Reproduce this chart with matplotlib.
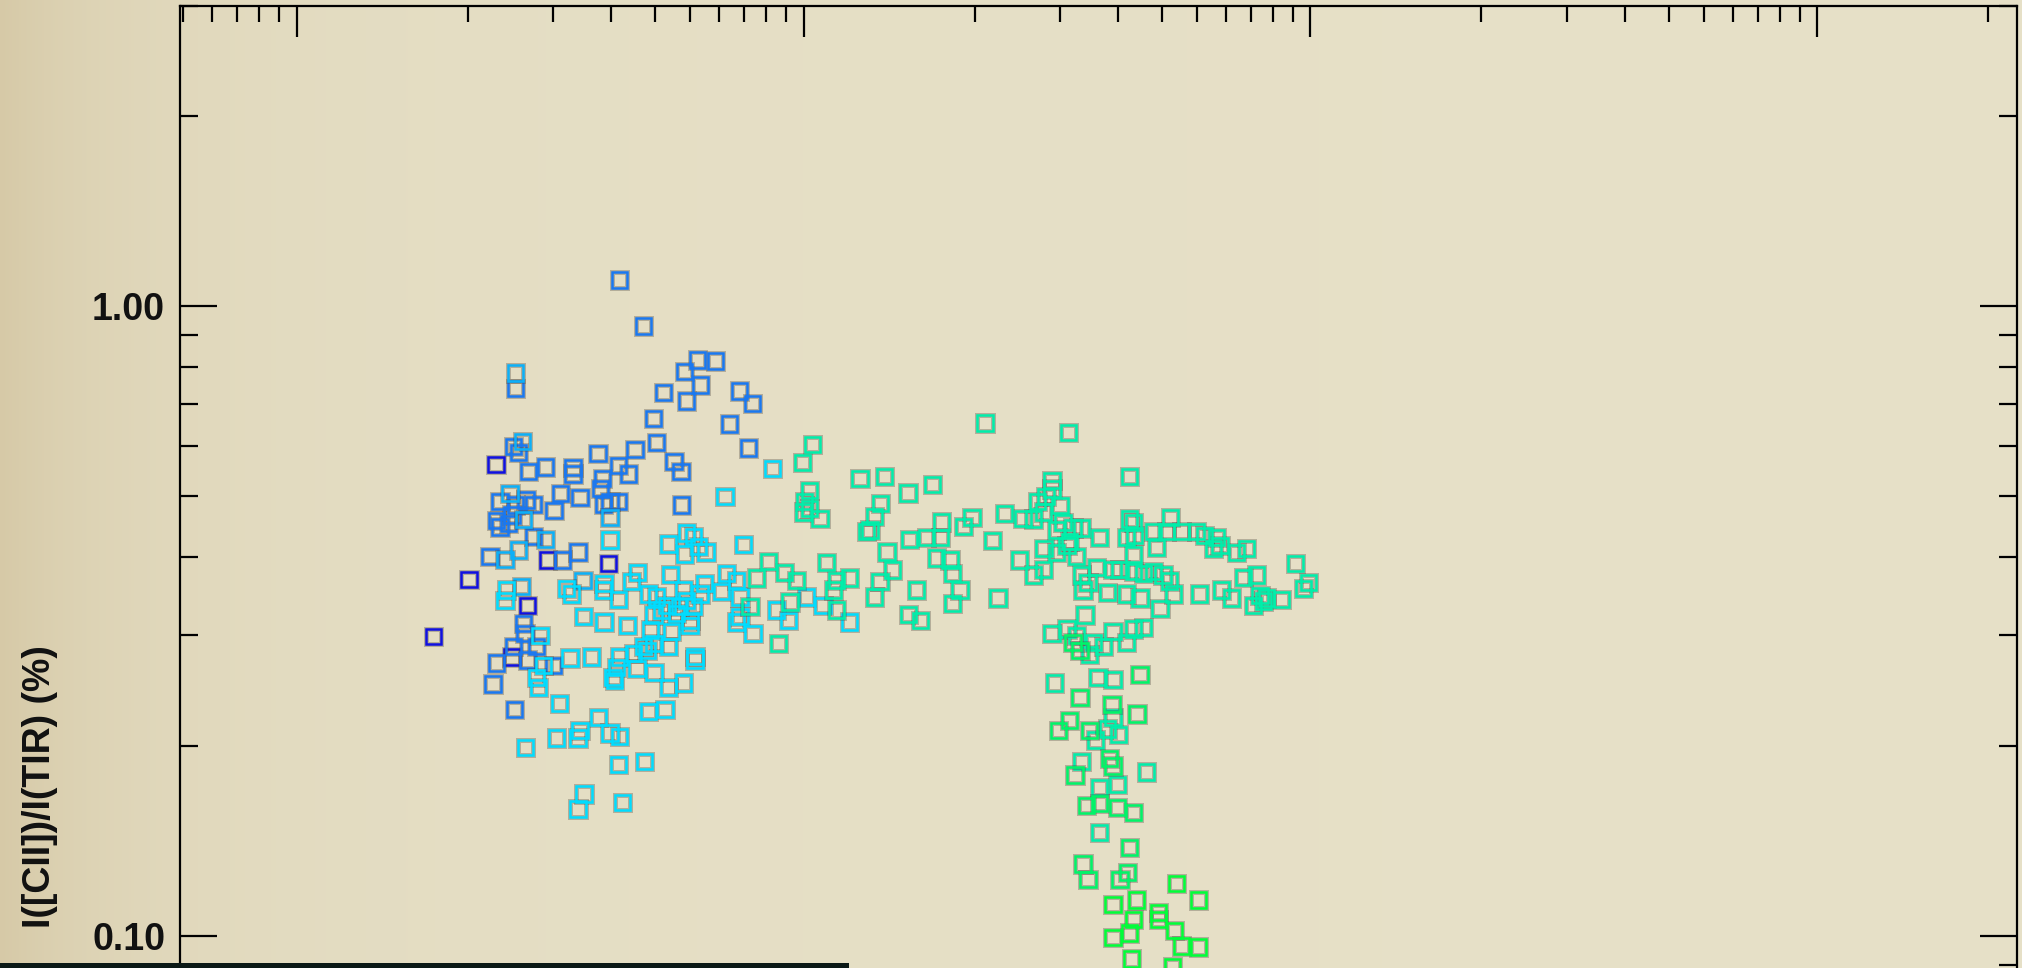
import numpy as np
import matplotlib
matplotlib.use("Agg")
import matplotlib.pyplot as plt
from matplotlib import patheffects as pe
from matplotlib.ticker import FixedLocator, NullFormatter
from matplotlib.patches import Rectangle

# ---------------------------------------------------------------------------
# Data: [CII]/TIR ratio (%) against the x quantity, grouped by colour class
# ---------------------------------------------------------------------------
x_deep = [2.472, 3.13, 4.12, 2.187, 2.85, 1.86, 2.66]
y_deep = [0.560, 0.395, 0.390, 0.368, 0.335, 0.299, 0.277]

x_blue = [4.34, 4.83, 5.82, 6.18, 6.71, 2.70, 5.29, 5.88, 6.27, 7.47, 7.94, 5.05,
          7.14, 5.13, 4.65, 3.93, 5.55, 5.73, 7.78, 2.675, 2.736, 3.10, 2.868,
          3.51, 3.51, 4.01, 3.97, 4.32, 4.51, 3.32, 3.62, 2.518, 2.833, 2.93,
          2.70, 3.22, 4.15, 4.31, 4.03, 5.75, 2.48, 2.614, 2.518, 2.66, 2.93,
          2.406, 3.35, 3.59, 2.80, 2.82, 2.97, 2.675, 2.48, 2.85, 3.21, 2.44, 2.69]
y_blue = [1.100, 0.930, 0.788, 0.821, 0.818, 0.740, 0.729, 0.707, 0.749, 0.733,
          0.701, 0.663, 0.650, 0.607, 0.592, 0.584, 0.567, 0.546, 0.595, 0.598,
          0.586, 0.555, 0.546, 0.554, 0.541, 0.532, 0.513, 0.558, 0.541, 0.504,
          0.497, 0.489, 0.492, 0.484, 0.483, 0.474, 0.489, 0.490, 0.484, 0.483,
          0.457, 0.451, 0.446, 0.466, 0.431, 0.400, 0.395, 0.407, 0.313, 0.302,
          0.288, 0.288, 0.271, 0.274, 0.269, 0.251, 0.229]

x_azure = [2.70, 2.79, 2.635, 4.15, 2.80, 3.10, 2.736, 2.576, 2.78, 3.67]
y_azure = [0.783, 0.609, 0.504, 0.461, 0.458, 0.426, 0.410, 0.396, 0.359, 0.367]

x_cyan = [8.67, 7.00, 4.15, 5.41, 5.88, 6.06, 5.83, 6.20, 6.42, 7.61, 2.59, 2.576,
          3.41, 3.49, 4.04, 4.03, 4.70, 4.58, 4.31, 4.94, 5.13, 5.47, 5.79, 5.88,
          6.25, 6.37, 6.06, 5.70, 5.38, 5.25, 5.62, 5.97, 5.07, 6.89, 7.05, 7.38,
          7.49, 7.95, 7.49, 7.38, 8.85, 9.33, 10.14, 10.93, 12.34, 3.02, 3.07,
          3.46, 3.82, 2.97, 3.00, 3.30, 3.68, 4.04, 4.50, 4.99, 5.49, 5.97, 4.34,
          4.62, 4.83, 5.07, 4.91, 4.28, 4.69, 5.07, 4.21, 4.24, 5.42, 6.11, 6.11,
          5.41, 5.79, 4.94, 5.33, 3.94, 4.15, 4.34, 3.26, 3.62, 3.59, 2.83, 4.31,
          4.85, 3.69, 3.59, 4.39]
y_cyan = [0.552, 0.499, 0.425, 0.419, 0.436, 0.431, 0.404, 0.415, 0.407, 0.418,
          0.354, 0.341, 0.356, 0.349, 0.363, 0.354, 0.377, 0.365, 0.342, 0.349,
          0.345, 0.375, 0.354, 0.341, 0.349, 0.363, 0.333, 0.333, 0.335, 0.329,
          0.325, 0.317, 0.323, 0.352, 0.376, 0.367, 0.345, 0.302, 0.321, 0.315,
          0.329, 0.317, 0.345, 0.335, 0.315, 0.300, 0.269, 0.276, 0.277, 0.257,
          0.248, 0.234, 0.321, 0.315, 0.311, 0.306, 0.304, 0.311, 0.277, 0.281,
          0.288, 0.291, 0.284, 0.267, 0.266, 0.262, 0.257, 0.254, 0.288, 0.278,
          0.274, 0.248, 0.252, 0.227, 0.229, 0.222, 0.210, 0.207, 0.206, 0.212,
          0.206, 0.199, 0.187, 0.189, 0.168, 0.159, 0.163]

x_aqua = [10.42, 9.96, 12.92, 14.43, 10.26, 10.05, 10.26, 10.77, 9.99, 14.2, 13.8,
          13.52, 13.3, 8.52, 9.18, 9.69, 11.1, 11.6, 12.34, 14.6, 14.96, 14.15,
          13.8, 7.84, 8.08, 9.40, 11.45, 11.6, 8.91,
          22.8, 33.3, 17.98, 16.08, 30.9, 44.0, 28.9, 30.1, 32.05, 30.9, 29.7,
          28.4, 27.1, 24.9, 21.5, 20.7, 18.7, 16.2, 17.5, 18.6, 23.6, 26.7, 28.4,
          29.7, 29.8, 31.6, 32.5, 34.0, 35.4, 31.6, 33.1, 33.5, 34.6, 38.4, 44.0,
          44.7, 45.0, 43.4, 44.7, 53.0, 49.7, 49.0, 52.0, 55.7, 59.6, 61.9, 65.3,
          64.3, 66.3, 71.5, 74.8, 18.3, 19.45, 19.7, 20.35, 19.7, 16.7, 16.1,
          17.0, 24.2, 35.4, 36.4, 35.6, 37.9, 40.8, 42.1, 44.7, 46.8, 49.0, 51.2,
          52.8, 43.4, 46.1, 50.5, 53.6, 39.8, 60.5, 66.8, 69.9, 73.7, 78.2, 77.1,
          80.7, 79.5, 82.0, 87.6, 93.3, 97.0, 99.0, 35.9, 30.9, 33.1, 34.6, 37.3,
          36.7, 39.0, 40.8, 43.4, 44.7, 46.8, 31.3, 38.1, 40.8, 40.8, 37.7, 39.8,
          41.8, 35.4, 47.5, 38.4, 41.6, 38.4]
y_aqua = [0.603, 0.564, 0.532, 0.536, 0.510, 0.489, 0.477, 0.460, 0.471, 0.486,
          0.463, 0.441, 0.438, 0.393, 0.377, 0.367, 0.392, 0.367, 0.370, 0.407,
          0.381, 0.365, 0.345, 0.333, 0.370, 0.339, 0.354, 0.329, 0.291,
          0.652, 0.630, 0.521, 0.505, 0.528, 0.536, 0.490, 0.498, 0.482, 0.512,
          0.471, 0.459, 0.460, 0.468, 0.462, 0.447, 0.454, 0.426, 0.429, 0.429,
          0.424, 0.395, 0.374, 0.382, 0.412, 0.406, 0.453, 0.444, 0.444, 0.441,
          0.417, 0.423, 0.400, 0.429, 0.459, 0.453, 0.432, 0.429, 0.403, 0.462,
          0.414, 0.438, 0.438, 0.438, 0.438, 0.432, 0.429, 0.412, 0.417, 0.406,
          0.412, 0.398, 0.395, 0.376, 0.354, 0.337, 0.354, 0.324, 0.317, 0.344,
          0.374, 0.364, 0.354, 0.384, 0.382, 0.382, 0.379, 0.376, 0.379, 0.374,
          0.366, 0.349, 0.344, 0.331, 0.349, 0.351, 0.349, 0.354, 0.344, 0.371,
          0.374, 0.335, 0.340, 0.347, 0.344, 0.342, 0.390, 0.356, 0.364, 0.323,
          0.302, 0.307, 0.300, 0.292, 0.280, 0.288, 0.304, 0.292, 0.307, 0.309,
          0.252, 0.257, 0.255, 0.222, 0.2045, 0.213, 0.209, 0.189, 0.182, 0.172,
          0.174, 0.146]

x_green = [34.0, 35.1, 46.1, 35.1, 40.6, 45.5, 31.8, 33.5, 36.7, 34.3, 40.2, 40.8,
           36.2, 38.4, 41.6, 44.7, 44.0, 35.6, 36.4, 43.6, 42.1]
y_green = [0.292, 0.284, 0.260, 0.239, 0.233, 0.225, 0.212, 0.220, 0.212, 0.180,
           0.191, 0.186, 0.161, 0.162, 0.160, 0.157, 0.138, 0.130, 0.123, 0.126,
           0.123]

x_lime = [54.4, 60.2, 40.8, 45.4, 50.1, 44.7, 50.1, 53.9, 44.0, 40.8, 55.7, 60.2,
          44.3, 53.4]
y_lime = [0.121, 0.114, 0.112, 0.114, 0.109, 0.106, 0.106, 0.102, 0.101, 0.0993,
          0.0963, 0.096, 0.0919, 0.0894]

groups = [
    (x_deep, y_deep, "#1010e0"),
    (x_blue, y_blue, "#1a78f0"),
    (x_azure, y_azure, "#0cb0f8"),
    (x_cyan, y_cyan, "#00dcff"),
    (x_aqua, y_aqua, "#00eeaa"),
    (x_green, y_green, "#00f468"),
    (x_lime, y_lime, "#00ff38"),
]

y_major = [0.1, 1.0]
y_major_labels = ["0.10", "1.00"]
y_label = "I([CII])/I(TIR) (%)"

# ---------------------------------------------------------------------------
W, H = 2022, 968
DPI = 100
fig = plt.figure(figsize=(W / DPI, H / DPI), dpi=DPI)

# Warm paper-like backdrop, darker towards the left edge
bg = fig.add_axes([0, 0, 1, 1], zorder=0)
bg.set_axis_off()
u = np.linspace(0, 1, 1011)[None, :]
v = np.linspace(0, 1, 2)[:, None]
t = 0.75 * np.exp(-u / 0.06) + 0.25 * np.exp(-u / 0.35) + 0.0 * v
t = np.clip(t, 0, 1)
light = np.array([0.905, 0.882, 0.785])
dark = np.array([0.840, 0.790, 0.655])
img = light[None, None, :] + t[..., None] * (dark - light)[None, None, :]
bg.imshow(img, extent=[0, 1, 0, 1], aspect="auto", interpolation="bilinear",
          origin="upper")
bg.set_xlim(0, 1)
bg.set_ylim(0, 1)

# Dark band along the lower edge
fig.patches.append(Rectangle((0, 0), 849 / W, 5 / H, transform=fig.transFigure,
                             facecolor="#0b1916", edgecolor="none", zorder=5))

# Main plotting axes (extends below the figure edge)
ax = fig.add_axes([180 / W, -0.02975, 1837 / W, 1.02397], zorder=2)
ax.patch.set_alpha(0)
ax.set_xscale("log")
ax.set_yscale("log")
ax.set_xlim(0.5886, 2477)
ax.set_ylim(0.08, 3.0)

halo = [pe.Stroke(linewidth=3.6, foreground=(0.30, 0.28, 0.25, 0.32)), pe.Normal()]
for xs, ys, col in groups:
    ax.plot(xs, ys, linestyle="none", marker="s", markersize=11.0,
            markerfacecolor="none", markeredgecolor=col, markeredgewidth=1.8,
            path_effects=halo, zorder=3, clip_on=True)

# Ticks
for s in ax.spines.values():
    s.set_linewidth(1.6)
    s.set_color("black")

frac = np.log10(1 + 1.6 * np.arange(1, 10)) / np.log10(17)
x_minor = [10.0 ** (k + f) for k in range(-1, 4) for f in frac]
ax.xaxis.set_major_locator(FixedLocator([1, 10, 100, 1000]))
ax.xaxis.set_minor_locator(FixedLocator(x_minor))
ax.xaxis.set_major_formatter(NullFormatter())
ax.xaxis.set_minor_formatter(NullFormatter())
ax.tick_params(axis="x", which="both", direction="in", top=True, bottom=False,
               labelbottom=False, width=1.6, color="black")
ax.tick_params(axis="x", which="major", length=22.3)
ax.tick_params(axis="x", which="minor", length=11.5)

y_minor = [0.08, 0.09] + [0.1 * k for k in range(2, 10)] + [2.0, 3.0]
ax.yaxis.set_major_locator(FixedLocator(y_major))
ax.yaxis.set_minor_locator(FixedLocator(y_minor))
ax.set_yticklabels(y_major_labels)
ax.yaxis.set_minor_formatter(NullFormatter())
ax.tick_params(axis="y", which="both", direction="in", left=True, right=True,
               width=1.6, color="black", pad=10.8)
ax.tick_params(axis="y", which="major", length=26.6)
ax.tick_params(axis="y", which="minor", length=13.3)
for lab in ax.get_yticklabels():
    lab.set_fontfamily("Liberation Sans")
    lab.set_fontsize(27)
    lab.set_fontweight("bold")
    lab.set_color("#111111")

fig.text(40 / W, 1 - 787 / H, y_label, rotation=90, ha="center", va="center",
         fontsize=27, fontweight="bold", family="Liberation Sans", color="#111111")

fig.savefig("out.png", dpi=DPI)
